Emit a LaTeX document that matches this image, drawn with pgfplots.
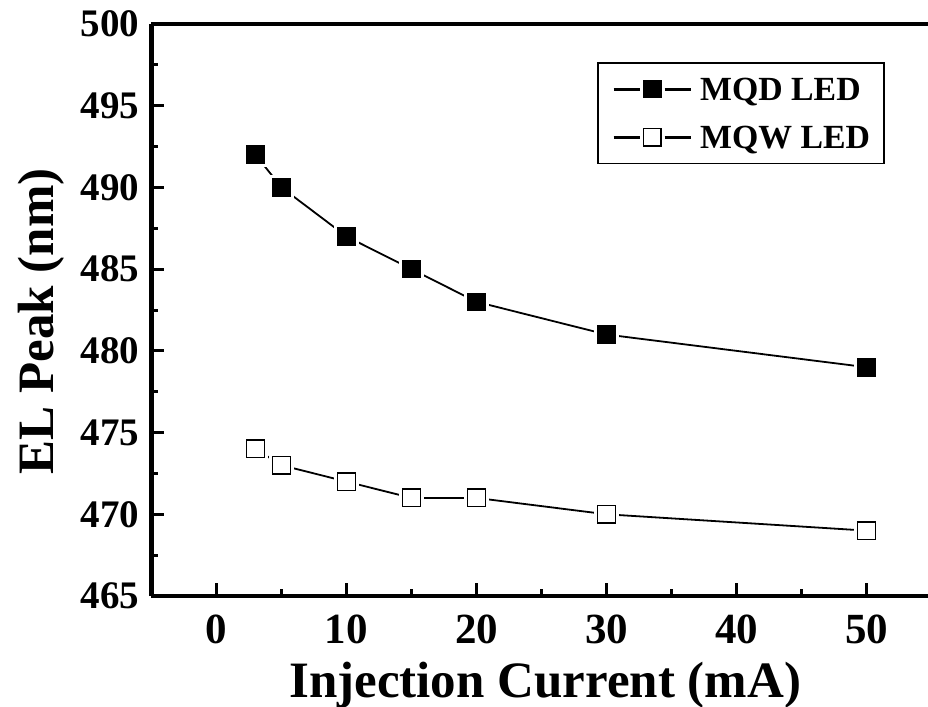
\documentclass[border=0pt]{standalone}
\usepackage{pgfplots}
\usepackage{pgfplotstable}
\pgfplotsset{compat=1.18}
\usepackage{fontspec}
\setmainfont{Liberation Serif}
\pgfplotstableread{
x y
3 492
5 490
10 487
15 485
20 483
30 481
50 479
}\mqd
\pgfplotstableread{
x y
3 474
5 473
10 472
15 471
20 471
30 470
50 469
}\mqw
\begin{document}
\begin{tikzpicture}
\useasboundingbox (-75.75pt,-55.5pt) rectangle (388.25pt,298pt);
\begin{axis}[
  at={(0pt,0pt)}, anchor=south west,
  scale only axis,
  width=388.25pt, height=286pt,
  xmin=-5, xmax=54.73, ymin=465, ymax=500,
  axis x line*=box, axis y line*=left,
  axis line style={line width=2.2pt},
  every tick/.style={line width=1.5pt, black},
  tick align=inside,
  xtick={0,10,20,30,40,50},
  minor xtick={5,15,25,35,45},
  ytick={465,470,475,480,485,490,495,500},
  minor ytick={467.5,472.5,477.5,482.5,487.5,492.5,497.5},
  major tick length=6.5pt, minor tick length=3.5pt,
  xtick pos=bottom, ytick pos=left,
  /pgf/number format/assume math mode=true,
  xticklabel style={font=\bfseries\fontsize{21.5pt}{24pt}\selectfont, inner sep=0pt, anchor=north, yshift=-9.5pt},
  yticklabel style={font=\bfseries\fontsize{19.5pt}{24pt}\selectfont, inner sep=0pt, anchor=east, xshift=-6pt},
  xlabel={\textbf{Injection Current (mA)}},
  ylabel={\textbf{EL Peak (nm)}},
  label style={font=\bfseries\fontsize{25.5pt}{30pt}\selectfont, inner sep=0pt},
  xlabel style={at={(axis description cs:0.507,-0.1783)}, anchor=base},
  ylabel style={at={(axis description cs:-0.1268,0.48)}, anchor=base, rotate=0},
  legend style={at={(0.9446,0.9336)}, anchor=north east, draw=black, line width=0.9pt,
    font=\bfseries\fontsize{16.9pt}{20pt}\selectfont,
    nodes={inner sep=0pt, text height=11.3pt, text depth=0pt},
    row sep=12.7pt, inner xsep=7pt, inner ysep=7.5pt,
    /tikz/every odd column/.append style={column sep=4pt}},
  legend cell align=left,
  legend image code/.code={
    \draw[line width=1.4pt] (0pt,0pt) -- (13pt,0pt);
    \draw[line width=1.4pt] (25.5pt,0pt) -- (38.5pt,0pt);
    \draw[#1] plot coordinates {(19.25pt,0pt)};
  },
]
\addplot[black, line width=0.9pt, no marks, forget plot] table[x=x,y=y] {\mqd};
\addplot[only marks, mark=square*, mark size=5.9pt, mark options={fill=white, draw=white}, forget plot] table[x=x,y=y] {\mqd};
\addplot[black, only marks, mark=square*, mark size=4.4pt, mark options={fill=black, line width=0.5pt}] table[x=x,y=y] {\mqd};
\addlegendentry{MQD LED}
\addplot[black, line width=0.9pt, no marks, forget plot] table[x=x,y=y] {\mqw};
\addplot[only marks, mark=square*, mark size=5.9pt, mark options={fill=white, draw=white}, forget plot] table[x=x,y=y] {\mqw};
\addplot[black, only marks, mark=square*, mark size=4.4pt, mark options={fill=white, line width=0.7pt}] table[x=x,y=y] {\mqw};
\addlegendentry{MQW LED}
\end{axis}
\end{tikzpicture}
\end{document}
